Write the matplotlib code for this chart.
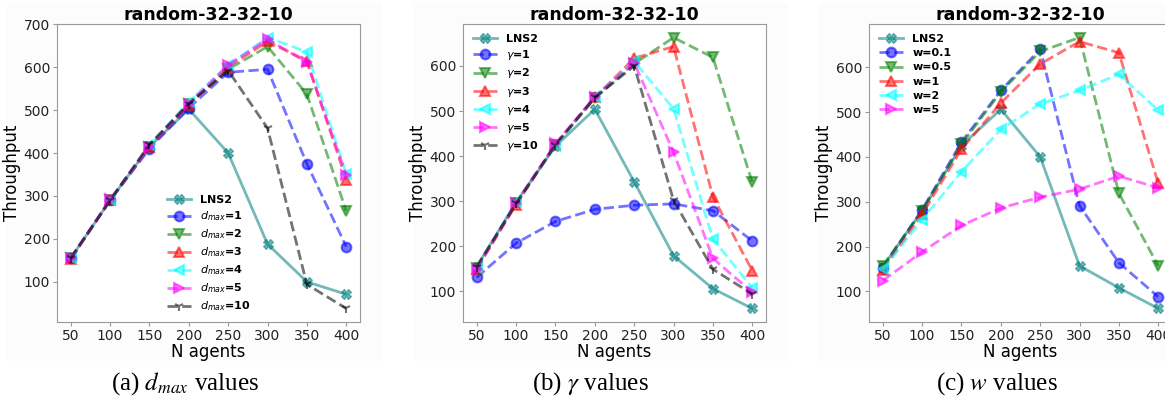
import matplotlib
matplotlib.use("Agg")
import matplotlib.pyplot as plt
from matplotlib.patches import Rectangle

# x axis: number of agents
n_agents = [50, 100, 150, 200, 250, 300, 350, 400]

# baseline (same in every panel, read per panel)
lns2_a = [155, 290, 415, 502, 400, 188, 100, 71]
lns2_b = [155, 298, 422, 504, 343, 179, 106, 62]
lns2_c = [155, 280, 425, 506, 400, 157, 108, 62]

# (a) d_max values
dmax_labels = [r"$d_{max}$=1", r"$d_{max}$=2", r"$d_{max}$=3",
               r"$d_{max}$=4", r"$d_{max}$=5", r"$d_{max}$=10"]
dmax_1 = [155, 290, 410, 505, 588, 595, 375, 182]
dmax_2 = [155, 290, 415, 515, 595, 648, 537, 265]
dmax_3 = [153, 290, 415, 512, 600, 660, 615, 338]
dmax_4 = [155, 290, 418, 520, 605, 669, 636, 352]
dmax_5 = [155, 292, 415, 515, 605, 665, 611, 349]
dmax_10 = [155, 290, 420, 515, 592, 458, 94, 38]

# (b) gamma values
gamma_labels = [r"$\gamma$=1", r"$\gamma$=2", r"$\gamma$=3",
                r"$\gamma$=4", r"$\gamma$=5", r"$\gamma$=10"]
gamma_1 = [131, 207, 255, 282, 291, 294, 279, 212]
gamma_2 = [152, 295, 425, 528, 605, 663, 619, 342]
gamma_3 = [150, 292, 425, 530, 617, 643, 310, 146]
gamma_4 = [152, 298, 422, 532, 610, 505, 216, 108]
gamma_5 = [150, 296, 428, 532, 607, 409, 173, 98]
gamma_10 = [155, 295, 425, 530, 600, 302, 149, 94]

# (c) w values
w_labels = ["w=0.1", "w=0.5", "w=1", "w=2", "w=5"]
w_01 = [153, 282, 433, 548, 640, 291, 164, 88]
w_05 = [157, 280, 428, 545, 635, 666, 319, 157]
w_1 = [148, 272, 417, 520, 607, 657, 632, 341]
w_2 = [149, 260, 367, 461, 518, 548, 584, 504]
w_5 = [124, 188, 247, 286, 310, 328, 357, 331]

styles = [("blue", "o"), ("green", "v"), ("red", "^"),
          ("cyan", "<"), ("magenta", ">"), ("black", "1")]

W, H = 1165, 403
fig = plt.figure(figsize=(W / 100, H / 100), dpi=100)


def panel(left_px, lns2, series, labels, legend_loc, legend_anchor):
    # very faint grey backdrop of the original screenshot
    fig.patches.append(Rectangle(((left_px - 50) / W, 42 / H), 375 / W, 358 / H,
                                 transform=fig.transFigure, facecolor="#fcfcfc",
                                 edgecolor="none", zorder=-10))
    ax = fig.add_axes([left_px / W, (403 - 322) / H, 303 / W, 298 / H])
    ax.plot(n_agents, lns2, color="teal", marker="X", ms=7, lw=2,
            alpha=0.55, label="LNS2")
    for vals, lab, (col, mk) in zip(series, labels, styles):
        ax.plot(n_agents, vals, color=col, marker=mk, ms=7, lw=2,
                ls="--", alpha=0.55, label=lab, mew=1.5)
    ax.set_xticks(n_agents)
    ax.set_title("random-32-32-10", fontsize=12.5, fontweight="bold", pad=3)
    ax.set_xlabel("N agents", fontsize=12, labelpad=0)
    ax.set_ylabel("Throughput", fontsize=12, labelpad=2)
    ax.tick_params(labelsize=10, color="#999999", labelcolor="#222222",
                   length=3, pad=2)
    for s in ax.spines.values():
        s.set_color("#999999")
    ax.legend(loc=legend_loc, bbox_to_anchor=legend_anchor, frameon=False,
              prop={"weight": "bold", "size": 8}, labelspacing=0.38,
              handlelength=2.2)
    return ax


panel(57, lns2_a, [dmax_1, dmax_2, dmax_3, dmax_4, dmax_5, dmax_10],
      dmax_labels, "lower left", (0.33, -0.005))
panel(463, lns2_b, [gamma_1, gamma_2, gamma_3, gamma_4, gamma_5, gamma_10],
      gamma_labels, "upper left", (0.0, 1.0))
panel(869, lns2_c, [w_01, w_05, w_1, w_2, w_5],
      w_labels, "upper left", (0.0, 1.0))

plt.rcParams["mathtext.fontset"] = "stix"
cap = dict(fontsize=18, family="Liberation Serif", ha="center", va="center")
fig.text(185 / W, 1 - 384 / H, r"(a) $d_{max}$ values", **cap)
fig.text(590 / W, 1 - 384 / H, r"(b) $\gamma$ values", **cap)
fig.text(997 / W, 1 - 384 / H, r"(c) $w$ values", **cap)

fig.savefig("out.png", dpi=100)
